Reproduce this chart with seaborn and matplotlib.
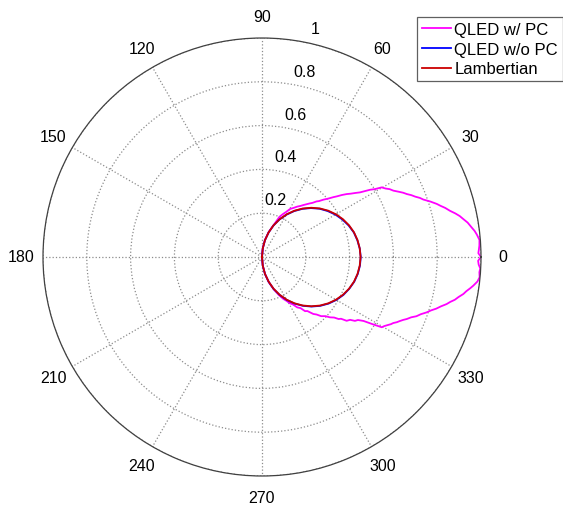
import numpy as np
import pandas as pd
import matplotlib
matplotlib.use("Agg")
import matplotlib.pyplot as plt
import seaborn as sns

# ---------------- data ----------------
mag_deg = [-90, -85, -80, -75, -70, -66, -63, -61, -59, -57, -55, -53, -51.5, -50, -48,
           -46.5, -45, -43, -41.6, -40, -39, -38, -37, -35.5, -34.5, -33.3, -32.2, -31.3,
           -30.4, -29.5, -28.5, -27.5, -26.7, -25.8, -25, -24, -23.2, -22, -21, -19.8,
           -18.6, -17.5, -16.5, -15.4, -14.3, -13.4, -12.5, -11.5, -10.4, -9.5, -8.5,
           -7.7, -6.5, -5.3, -4, -3, -2, -1, 0,
           1, 2, 3, 4.5, 6, 7, 8, 9.5, 10.7, 11.7, 12.7, 13.8, 15, 16, 16.9, 18.2, 19.6,
           20.5, 21.5, 22.5, 23.5, 24.5, 25.5, 26.8, 28, 29, 30.2, 31, 31.9, 32.7, 33.4,
           34.5, 35.5, 36.6, 37.8, 39, 40, 41.5, 43, 44.5, 45.5, 47, 48.5, 50, 51.5, 53,
           55, 57, 59.7, 62, 64, 66.5, 68, 70, 75, 80, 85, 90]
mag_r = [0.0, 0.04, 0.079, 0.118, 0.157, 0.19, 0.215, 0.228, 0.246, 0.258, 0.281, 0.292,
         0.316, 0.322, 0.350, 0.362, 0.382, 0.396, 0.415, 0.430, 0.450, 0.458, 0.484,
         0.494, 0.515, 0.524, 0.548, 0.59, 0.634, 0.641, 0.652, 0.664, 0.671, 0.684,
         0.693, 0.706, 0.719, 0.735, 0.755, 0.771, 0.793, 0.810, 0.830, 0.848, 0.870,
         0.884, 0.902, 0.916, 0.935, 0.946, 0.962, 0.974, 0.99, 0.998, 0.995, 0.998, 0.99,
         0.987, 1.0,
         0.988, 0.991, 0.994, 0.996, 0.986, 0.978, 0.967, 0.952, 0.935, 0.922, 0.905,
         0.884, 0.866, 0.848, 0.834, 0.81, 0.782, 0.770, 0.752, 0.738, 0.721, 0.708,
         0.692, 0.672, 0.660, 0.645, 0.632, 0.602, 0.581, 0.556, 0.536, 0.516, 0.498,
         0.482, 0.462, 0.440, 0.425, 0.402, 0.384, 0.364, 0.356, 0.338, 0.326, 0.314,
         0.303, 0.292, 0.281, 0.268, 0.254, 0.232, 0.218, 0.200, 0.178, 0.155, 0.118,
         0.08, 0.04, 0.0]

curve_deg = [-90, -85, -80, -75, -70, -65, -60, -55, -50, -45, -40, -35, -30, -25, -20,
             -15, -10, -5, 0, 5, 10, 15, 20, 25, 30, 35, 40, 45, 50, 55, 60, 65, 70, 75,
             80, 85, 90]
blue_r = [0.0, 0.04, 0.079, 0.118, 0.156, 0.192, 0.227, 0.260, 0.291, 0.320, 0.347,
          0.371, 0.392, 0.410, 0.424, 0.436, 0.444, 0.449, 0.451, 0.448, 0.442, 0.434,
          0.421, 0.405, 0.387, 0.366, 0.343, 0.316, 0.287, 0.256, 0.223, 0.189, 0.153,
          0.116, 0.078, 0.039, 0.0]
lamb_r = [0.0, 0.039, 0.078, 0.116, 0.154, 0.190, 0.225, 0.258, 0.289, 0.318, 0.345,
          0.369, 0.390, 0.408, 0.423, 0.435, 0.443, 0.448, 0.450, 0.448, 0.443, 0.435,
          0.423, 0.408, 0.390, 0.369, 0.345, 0.318, 0.289, 0.258, 0.225, 0.190, 0.154,
          0.116, 0.078, 0.039, 0.0]

series_names = ["QLED w/ PC", "QLED w/o PC", "Lambertian"]
series_colors = ["#ff00ff", "#0000ff", "#cc0000"]
r_ticks = [0.2, 0.4, 0.6, 0.8, 1.0]
r_tick_labels = ["0.2", "0.4", "0.6", "0.8", "1"]
theta_ticks = list(range(0, 360, 30))
theta_tick_labels = [str(t) for t in theta_ticks]

# ---------------- figure ----------------
plt.rcParams['font.family'] = ['Liberation Sans', 'DejaVu Sans']
W, H = 563, 506
fig = plt.figure(figsize=(W / 100, H / 100), dpi=100)
cx, cy, R = 262, 258, 219
ax = fig.add_axes([(cx - R) / W, (H - cy - R) / H, 2 * R / W, 2 * R / H], projection='polar')

frames = [
    pd.DataFrame({"theta": np.deg2rad(mag_deg), "r": mag_r}),
    pd.DataFrame({"theta": np.deg2rad(curve_deg), "r": blue_r}),
    pd.DataFrame({"theta": np.deg2rad(curve_deg), "r": lamb_r}),
]
for df, name, col in zip(frames, series_names, series_colors):
    sns.lineplot(data=df, x="theta", y="r", sort=False, estimator=None, ax=ax,
                 color=col, linewidth=1.3, label=name)

ax.set_ylim(0, 1)
ax.set_rticks(r_ticks)
ax.set_yticklabels([])
ax.set_thetagrids(theta_ticks, labels=[])
ax.set_xlabel("")
ax.set_ylabel("")
ax.grid(True, linestyle=':', color='#8c8c8c', linewidth=0.9)
ax.spines['polar'].set_color('#404040')
ax.spines['polar'].set_linewidth(0.9)
ax.tick_params(length=0)

for t, lab in zip(theta_ticks, theta_tick_labels):
    ax.text(np.deg2rad(t), 1.1, lab, ha='center', va='center', fontsize=11.5, color='black')
for rv, lab in zip(r_ticks, r_tick_labels):
    ax.text(np.deg2rad(77), rv + 0.07, lab, ha='center', va='center', fontsize=11.5,
            color='black')

leg = ax.legend(loc='upper right', bbox_to_anchor=(1.0, 1 - 18 / H),
                bbox_transform=fig.transFigure, borderaxespad=0, fontsize=12,
                handlelength=1.75, handletextpad=0.2, labelspacing=0.28,
                borderpad=0.3, fancybox=False, framealpha=1)
leg.get_frame().set_edgecolor('#606060')
leg.get_frame().set_linewidth(0.9)

fig.savefig("out.png", dpi=100)
